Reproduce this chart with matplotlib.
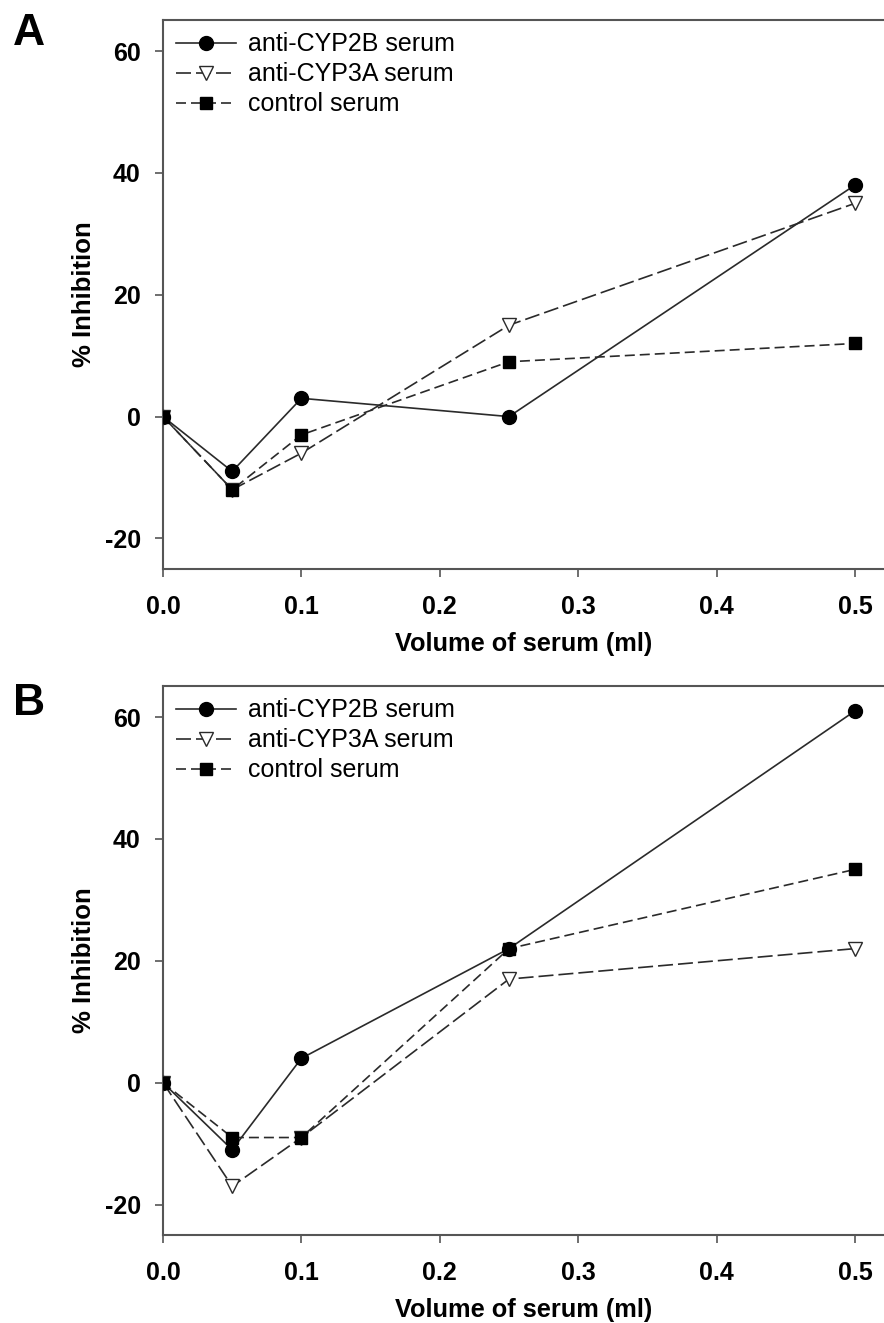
import numpy as np
import matplotlib.pyplot as plt

plt.rcParams['font.family'] = ['Liberation Sans', 'DejaVu Sans']
plt.rcParams['axes.unicode_minus'] = False

volume = [0.0, 0.05, 0.1, 0.25, 0.5]

# panel A
a_cyp2b = [0, -9, 3, 0, 38]
a_cyp3a = [0, -12, -6, 15, 35]
a_control = [0, -12, -3, 9, 12]

# panel B
b_cyp2b = [0, -11, 4, 22, 61]
b_cyp3a = [0, -17, -9, 17, 22]
b_control = [0, -9, -9, 22, 35]

labels = ["anti-CYP2B serum", "anti-CYP3A serum", "control serum"]
xticks = [0.0, 0.1, 0.2, 0.3, 0.4, 0.5]
yticks = [-20, 0, 20, 40, 60]

fig = plt.figure(figsize=(8.84, 13.23), dpi=100)
axA = fig.add_axes([0.1844, 0.570, 0.8156, 0.4149])
axB = fig.add_axes([0.1844, 0.0665, 0.8156, 0.4150])

spine_col = "#555555"
line_col = "#2a2a2a"

def draw(ax, s2b, s3a, ctl, letter, letter_y):
    ax.plot(volume, s2b, "-", color=line_col, lw=1.2, marker="o", ms=10,
            mfc="black", mec="black", label=labels[0], zorder=3)
    ax.plot(volume, s3a, color=line_col, lw=1.2, ls=(0, (9, 3)), marker="v", ms=10,
            mfc="white", mec=line_col, mew=1.0, label=labels[1], zorder=3)
    ax.plot(volume, ctl, color=line_col, lw=1.2, ls=(0, (6, 3)), marker="s", ms=8.5,
            mfc="black", mec="black", label=labels[2], zorder=3)
    ax.set_xlim(0, 0.521)
    ax.set_ylim(-25, 65.1)
    ax.set_xticks(xticks)
    ax.set_xticklabels(["%.1f" % t for t in xticks])
    ax.set_yticks(yticks)
    ax.spines["right"].set_visible(False)
    for s in ["left", "bottom", "top"]:
        ax.spines[s].set_color(spine_col)
        ax.spines[s].set_linewidth(1.5)
    ax.tick_params(direction="out", length=6, width=1.2, color=spine_col,
                   labelsize=18)
    ax.tick_params(axis="x", pad=13)
    ax.tick_params(axis="y", pad=10)
    for t in ax.get_xticklabels() + ax.get_yticklabels():
        t.set_fontweight("bold")
    ax.set_xlabel("Volume of serum (ml)", fontsize=18.3, fontweight="bold", labelpad=9)
    ax.set_ylabel("% Inhibition", fontsize=18.5, fontweight="bold", labelpad=6)
    ax.legend(loc="upper left", frameon=False, fontsize=18, handlelength=2.4,
              handletextpad=0.5, borderaxespad=0.1, labelspacing=0.24,
              bbox_to_anchor=(0.0, 1.0))
    fig.text(0.0147, letter_y, letter, fontsize=32, fontweight="bold",
             va="top", ha="left")

draw(axA, a_cyp2b, a_cyp3a, a_control, "A", 0.990)
draw(axB, b_cyp2b, b_cyp3a, b_control, "B", 0.4837)

fig.savefig("out.png", dpi=100)
